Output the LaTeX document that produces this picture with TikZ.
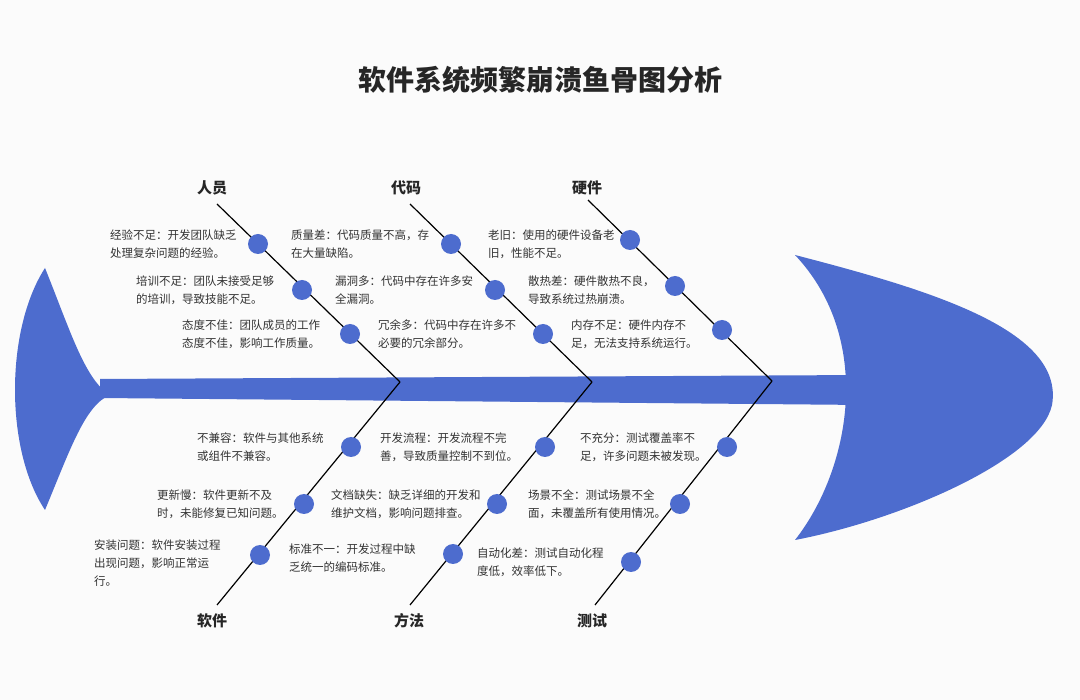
\documentclass[tikz,border=0pt]{standalone}
\usepackage{fontspec}
\setmainfont{Noto Sans CJK SC}
\definecolor{fishblue}{RGB}{77,108,206}
\definecolor{textgray}{RGB}{51,51,51}
\tikzstyle{cause}=[circle,fill=fishblue,minimum size=20pt,inner sep=0pt]
\tikzstyle{note}=[anchor=west,align=left,font=\fontsize{11.5}{18}\selectfont,text=textgray,inner sep=0pt]
\tikzstyle{cat}=[font=\fontsize{15}{18}\selectfont\bfseries,text=black!85]
\tikzstyle{bone}=[draw=black,line width=1.2pt]
\begin{document}
\begin{tikzpicture}[x=1pt,y=-1pt]
	\useasboundingbox[fill=white!97!gray] (0,0) rectangle (1080,700);
	\node[font=\fontsize{28}{32}\selectfont\bfseries,text=black!85] (title) at (540,80) {软件系统频繁崩溃鱼骨图分析};
	%Tail, spine and head
	\fill[fishblue] (45,268) .. controls (5,330) and (5,450) .. (45,510) .. controls (70,450) and (85,405) .. (110,395) .. controls (85,380) and (70,330) .. (45,268);
	\fill[fishblue] (100,379) -- (865,375) -- (865,405) -- (100,398) -- cycle;
	\fill[fishblue] (795,255) .. controls (930,290) and (1065,330) .. (1052,405) .. controls (1040,460) and (900,520) .. (795,540) .. controls (850,470) and (875,340) .. (795,255);
	%Category labels and bone ends
	\foreach \pos/\name/\txt in {{(212,188)/people/人员}, {(406,188)/code/代码}, {(587,188)/hardware/硬件},
							{(212,621)/software/软件}, {(409,621)/method/方法}, {(592,621)/testing/测试}}
		\node[cat] (\name) at \pos {\txt};
	\coordinate (peopletop) at (217,204);
	\coordinate (codetop) at (410,204);
	\coordinate (hardwaretop) at (588,200);
	\coordinate (softwarebot) at (217,605);
	\coordinate (methodbot) at (410,605);
	\coordinate (testingbot) at (595,605);
	\coordinate (j1) at (400,382);
	\coordinate (j2) at (592,382);
	\coordinate (j3) at (772,381);
	\draw[bone] (peopletop) -- (j1);
	\draw[bone] (codetop) -- (j2);
	\draw[bone] (hardwaretop) -- (j3);
	\draw[bone] (softwarebot) -- (j1);
	\draw[bone] (methodbot) -- (j2);
	\draw[bone] (testingbot) -- (j3);
	%The cause dots
	\foreach \pos/\name in {{(258,244)/p1}, {(302,290)/p2}, {(350,334)/p3},
							{(451,244)/c1}, {(495,290)/c2}, {(543,334)/c3},
							{(630,240)/h1}, {(675,286)/h2}, {(722,330)/h3},
							{(351,447)/s1}, {(304,504)/s2}, {(260,555)/s3},
							{(545,447)/m1}, {(497,504)/m2}, {(453,554)/m3},
							{(727,447)/t1}, {(680,504)/t2}, {(631,562)/t3}}
		\node[cause] (\name) at \pos {};
	%The cause texts
	\node[note] (p1t) at (110,244) {经验不足：开发团队缺乏\\处理复杂问题的经验。};
	\node[note] (p2t) at (136,290) {培训不足：团队未接受足够\\的培训，导致技能不足。};
	\node[note] (p3t) at (182,334) {态度不佳：团队成员的工作\\态度不佳，影响工作质量。};
	\node[note] (c1t) at (291,244) {质量差：代码质量不高，存\\在大量缺陷。};
	\node[note] (c2t) at (335,290) {漏洞多：代码中存在许多安\\全漏洞。};
	\node[note] (c3t) at (378,334) {冗余多：代码中存在许多不\\必要的冗余部分。};
	\node[note] (h1t) at (488,244) {老旧：使用的硬件设备老\\旧，性能不足。};
	\node[note] (h2t) at (528,290) {散热差：硬件散热不良，\\导致系统过热崩溃。};
	\node[note] (h3t) at (571,334) {内存不足：硬件内存不\\足，无法支持系统运行。};
	\node[note] (s1t) at (197,447) {不兼容：软件与其他系统\\或组件不兼容。};
	\node[note] (s2t) at (157,504) {更新慢：软件更新不及\\时，未能修复已知问题。};
	\node[note] (s3t) at (94,563) {安装问题：软件安装过程\\出现问题，影响正常运\\行。};
	\node[note] (m1t) at (380,447) {开发流程：开发流程不完\\善，导致质量控制不到位。};
	\node[note] (m2t) at (331,504) {文档缺失：缺乏详细的开发和\\维护文档，影响问题排查。};
	\node[note] (m3t) at (289,558) {标准不一：开发过程中缺\\乏统一的编码标准。};
	\node[note] (t1t) at (580,447) {不充分：测试覆盖率不\\足，许多问题未被发现。};
	\node[note] (t2t) at (528,504) {场景不全：测试场景不全\\面，未覆盖所有使用情况。};
	\node[note] (t3t) at (477,562) {自动化差：测试自动化程\\度低，效率低下。};
\end{tikzpicture}
\end{document}
